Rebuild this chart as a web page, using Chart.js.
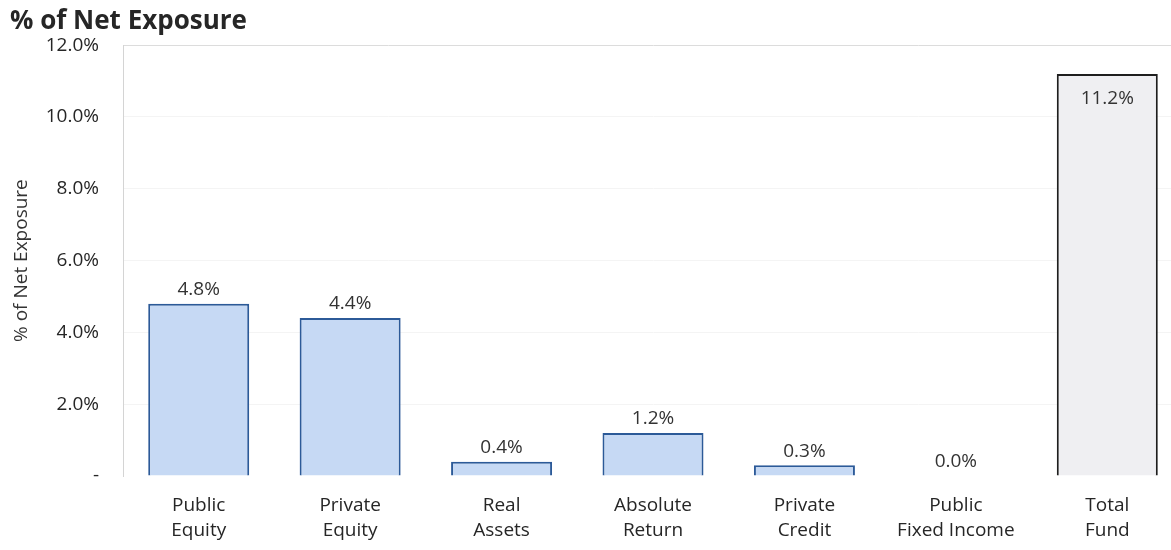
<!DOCTYPE html>
<html>
<head>
<meta charset="utf-8">
<script src="https://cdn.jsdelivr.net/npm/chart.js@4/dist/chart.umd.min.js"></script>
<style>
  html, body { margin: 0; padding: 0; background: #fff; overflow: hidden; }
  #wrap { position: relative; width: 1183px; height: 550px; }
</style>
</head>
<body>
<div id="wrap"><canvas id="chart"></canvas></div>
<script>
// Asset classes along the x axis
const categories = [
  ['Public', 'Equity'],
  ['Private', 'Equity'],
  ['Real', 'Assets'],
  ['Absolute', 'Return'],
  ['Private', 'Credit'],
  ['Public', 'Fixed Income'],
  ['Total', 'Fund']
];
// Share of net exposure, in percent
const exposure = [4.8, 4.4, 0.4, 1.2, 0.3, 0.0, 11.2];
// Value axis ticks, in percent
const yTicks = [0, 2, 4, 6, 8, 10, 12];

const FONT = '"Open Sans", Lato, sans-serif';
const lastIndex = exposure.length - 1;

// Writes each bar's value: above the bar, or just inside the top for the total
const valueLabels = {
  id: 'valueLabels',
  afterDatasetsDraw(chart) {
    const ctx = chart.ctx;
    const meta = chart.getDatasetMeta(0);
    ctx.save();
    ctx.font = '19px ' + FONT;
    ctx.fillStyle = '#333';
    ctx.textAlign = 'center';
    ctx.textBaseline = 'middle';
    meta.data.forEach((bar, i) => {
      const text = exposure[i].toFixed(1) + '%';
      if (i === lastIndex) {
        ctx.fillText(text, bar.x, bar.y + 25);
      } else {
        ctx.fillText(text, bar.x, bar.y - 14);
      }
    });
    ctx.restore();
  }
};

new Chart(document.getElementById('chart'), {
  type: 'bar',
  data: {
    labels: categories,
    datasets: [{
      data: exposure,
      backgroundColor: exposure.map((v, i) => i === lastIndex ? '#efeff2' : '#c6d9f4'),
      borderColor: exposure.map((v, i) => i === lastIndex ? '#1e1e1e' : '#2c5a98'),
      borderWidth: 2,
      borderSkipped: 'start',
      barPercentage: 0.667,
      categoryPercentage: 1.0
    }]
  },
  options: {
    responsive: true,
    maintainAspectRatio: false,
    animation: false,
    layout: { padding: { left: 10, right: 0, top: 0, bottom: 0 } },
    plugins: {
      legend: { display: false },
      tooltip: { enabled: false },
      title: {
        display: true,
        text: '% of Net Exposure',
        align: 'start',
        color: '#262626',
        font: { family: FONT, size: 26, weight: 'bold', lineHeight: 1.2 },
        padding: { top: 6, bottom: 8 }
      }
    },
    scales: {
      x: {
        grid: { display: false, drawTicks: false },
        border: { display: false },
        ticks: {
          color: '#262626',
          font: { family: FONT, size: 19, lineHeight: 1.27 },
          padding: 18,
          maxRotation: 0,
          autoSkip: false
        },
        afterFit(scale) { scale.height = 74; }
      },
      y: {
        min: 0,
        max: 12,
        afterBuildTicks(scale) { scale.ticks = yTicks.map(v => ({ value: v })); },
        grid: {
          drawTicks: false,
          color(ctx) {
            const v = ctx.tick && ctx.tick.value;
            if (v === 12) return '#dcdcdc';
            if (v === 0) return 'rgba(0,0,0,0)';
            return '#f4f4f4';
          }
        },
        border: { display: true, color: '#d4d4d4', width: 1 },
        ticks: {
          color: '#262626',
          font: { family: FONT, size: 19 },
          padding: 24,
          callback(v) { return v === 0 ? '-' : v.toFixed(1) + '%'; }
        },
        title: {
          display: true,
          text: '% of Net Exposure',
          color: '#333',
          font: { family: FONT, size: 19 },
          padding: { top: 0, bottom: 0 }
        },
        afterFit(scale) { scale.width = 113; }
      }
    }
  },
  plugins: [valueLabels]
});
</script>
</body>
</html>
